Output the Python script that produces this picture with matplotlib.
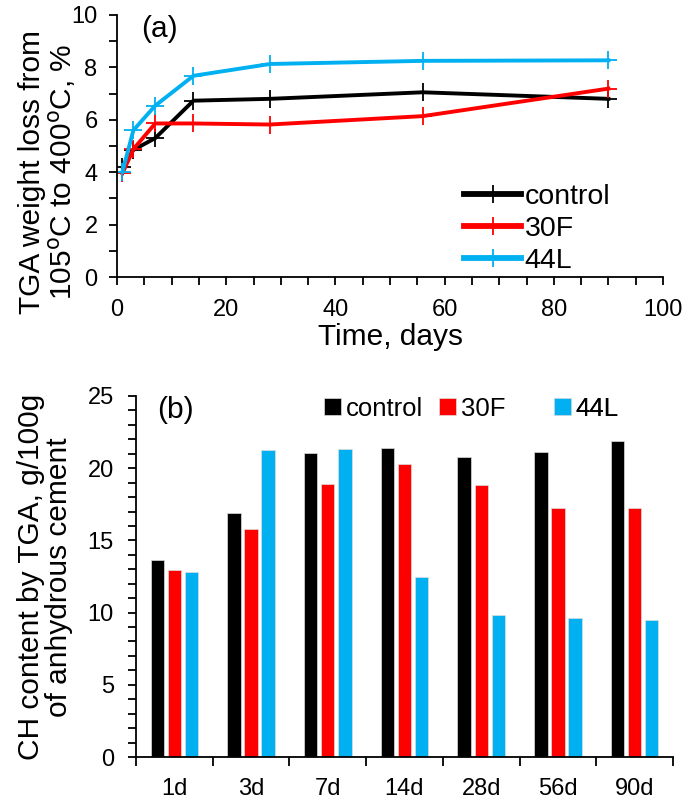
import matplotlib
matplotlib.use('Agg')
import matplotlib.pyplot as plt
from matplotlib.ticker import MultipleLocator, FixedLocator
from matplotlib.patches import Patch
import numpy as np

plt.rcParams['font.family'] = ['Liberation Sans', 'DejaVu Sans']

# (a) TGA weight loss vs time
days = [1, 3, 7, 14, 28, 56, 90]
loss_control = [4.2, 4.85, 5.3, 6.73, 6.8, 7.05, 6.8]
loss_30f = [3.96, 4.88, 5.86, 5.86, 5.82, 6.14, 7.19]
loss_44l = [4.02, 5.6, 6.54, 7.68, 8.13, 8.25, 8.27]

# (b) CH content
ages = ['1d', '3d', '7d', '14d', '28d', '56d', '90d']
ch_control = [13.62, 16.87, 21.06, 21.43, 20.81, 21.13, 21.87]
ch_30f = [12.97, 15.81, 18.94, 20.32, 18.85, 17.26, 17.26]
ch_44l = [12.79, 21.29, 21.36, 12.47, 9.84, 9.61, 9.52]

series_names = ['control', '30F', '44L']
colors = ['#000000', '#FF0000', '#00B0F0']

W, H = 685, 806
fig = plt.figure(figsize=(W / 100, H / 100), dpi=100)

tick_fs = 17
label_fs = 21.5
leg_fs = 20.5

# ---- top chart
ax1 = fig.add_axes([117 / W, 1 - 277 / H, (663 - 117) / W, (277 - 15) / H])
for vals, c, name in zip([loss_control, loss_30f, loss_44l], colors, series_names):
    ax1.plot(days, vals, color=c, lw=2.8, marker='+', markersize=13, mew=1.3, label=name)
ax1.set_xlim(0, 100)
ax1.set_ylim(0, 10)
ax1.xaxis.set_major_locator(MultipleLocator(20))
ax1.xaxis.set_minor_locator(MultipleLocator(5))
ax1.yaxis.set_major_locator(MultipleLocator(2))
ax1.yaxis.set_minor_locator(MultipleLocator(1))
ax1.set_xlabel('Time, days', fontsize=label_fs, labelpad=2)
ax1.text(0.045, 0.945, '(a)', transform=ax1.transAxes, fontsize=label_fs, va='center')
leg1 = ax1.legend(loc='lower left', bbox_to_anchor=(0.605, -0.055), frameon=False,
                  fontsize=leg_fs, handlelength=2.0, handletextpad=0.12,
                  labelspacing=0.22, borderaxespad=0.2)
for line in leg1.get_lines():
    line.set_linewidth(4.2)

fig.text(48 / W, 1 - 172 / H, 'TGA weight loss from\n105$^{\\rm o}$C to 400$^{\\rm o}$C, %',
         rotation=90, ha='center', va='center', fontsize=label_fs,
         multialignment='center', linespacing=1.0)

# ---- bottom chart
ax2 = fig.add_axes([136 / W, 1 - 757 / H, (673 - 136) / W, (757 - 396) / H])
x = np.arange(len(ages))
w = 0.175
for i, (vals, c) in enumerate(zip([ch_control, ch_30f, ch_44l], colors)):
    ax2.bar(x + (i - 1) * 0.222, vals, width=w, color=c, edgecolor='#dddddd',
            linewidth=0.5)
ax2.set_xlim(-0.5, len(ages) - 0.5)
ax2.set_ylim(0, 25)
ax2.set_xticks(x)
ax2.set_xticklabels(ages)
ax2.xaxis.set_minor_locator(FixedLocator(np.arange(-0.5, len(ages), 1.0)))
ax2.yaxis.set_major_locator(MultipleLocator(5))
ax2.yaxis.set_minor_locator(MultipleLocator(1))
ax2.text(0.04, 0.96, '(b)', transform=ax2.transAxes, fontsize=label_fs, va='center')

# Excel-like legend: equal-width entries
leg_x = [324, 439, 554]
for name, c, lx in zip(series_names, colors, leg_x):
    lg = ax2.legend(handles=[Patch(facecolor=c, edgecolor='#dddddd', linewidth=0.5, label=name)],
                    loc='center left', bbox_to_anchor=((lx - 136) / 537, 0.965),
                    frameon=False, fontsize=18.5, handlelength=0.65, handleheight=0.65,
                    handletextpad=0.2, borderaxespad=0.0, borderpad=0.0)
    ax2.add_artist(lg)

fig.text(45 / W, 1 - 577 / H, 'CH content by TGA, g/100g\nof anhydrous cement',
         rotation=90, ha='center', va='center', fontsize=label_fs,
         multialignment='center', linespacing=1.0)

for ax in (ax1, ax2):
    ax.spines['top'].set_visible(False)
    ax.spines['right'].set_visible(False)
    ax.spines['left'].set_linewidth(1.3)
    ax.spines['bottom'].set_linewidth(1.3)
    ax.tick_params(which='both', direction='out', width=1.3, length=5.5, labelsize=tick_fs)
ax1.tick_params(axis='y', which='major', pad=8.5)
ax1.tick_params(axis='x', which='major', pad=10)
ax2.tick_params(axis='y', which='major', pad=10.5)
ax2.tick_params(axis='x', which='major', length=0, pad=15)
ax2.tick_params(axis='x', which='minor', length=6.5)

fig.savefig('out.png', dpi=100)
